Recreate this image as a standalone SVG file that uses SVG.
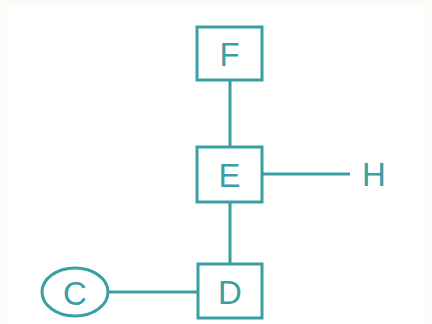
<svg xmlns="http://www.w3.org/2000/svg" width="432" height="324" viewBox="0 0 432 324">
<style>
.n{fill:#ffffff;stroke:#3a9fa3;stroke-width:3}
.t{font-family:"Liberation Sans",Arial,sans-serif;font-size:33px;fill:#3a9fa3;text-anchor:middle;dominant-baseline:central}
.c{stroke:#3a9fa3;stroke-width:3;fill:none}
</style>
<rect width="432" height="324" fill="#fdfbf7"/>
<rect x="8" y="6" width="416" height="318" fill="#ffffff"/>
<g id="connectors">
<line class="c" x1="230" y1="80" x2="230" y2="147"/>
<line class="c" x1="230" y1="202" x2="230" y2="264"/>
<line class="c" x1="262" y1="174" x2="350" y2="174"/>
<line class="c" x1="108" y1="292" x2="198" y2="292"/>
</g>
<g id="F"><rect class="n" x="197" y="27" width="65" height="53"/><text class="t" x="229.5" y="54">F</text></g>
<g id="E"><rect class="n" x="197" y="147" width="65" height="55"/><text class="t" x="229.5" y="175">E</text></g>
<g id="D"><rect class="n" x="198" y="264" width="64" height="54"/><text class="t" x="230" y="292">D</text></g>
<g id="C"><ellipse class="n" cx="75" cy="292" rx="33" ry="24"/><text class="t" x="75" y="293">C</text></g>
<g id="H"><text class="t" x="374" y="174">H</text></g>
</svg>
